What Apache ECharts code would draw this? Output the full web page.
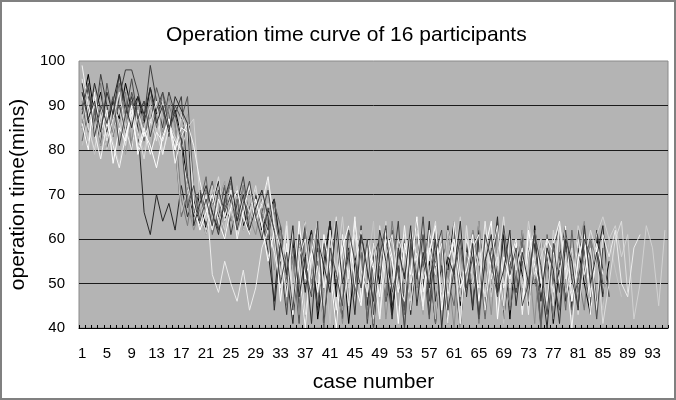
<!DOCTYPE html>
<html>
<head>
<meta charset="utf-8">
<style>html,body{margin:0;padding:0;background:#fff}#c{width:676px;height:400px}</style>
<script src="https://cdn.jsdelivr.net/npm/echarts@6/dist/echarts.min.js"></script>
</head>
<body>
<div id="c"></div>
<script>
const cases = [1,2,3,4,5,6,7,8,9,10,11,12,13,14,15,16,17,18,19,20,21,22,23,24,25,26,27,28,29,30,31,32,33,34,35,36,37,38,39,40,41,42,43,44,45,46,47,48,49,50,51,52,53,54,55,56,57,58,59,60,61,62,63,64,65,66,67,68,69,70,71,72,73,74,75,76,77,78,79,80,81,82,83,84,85,86,87,88,89,90,91,92,93,94,95];

const s1 = [90,97,88,93,85,91,87,95,89,92,86,94,88,91,85,89,83,72,65,70,62,68,73,64,69,71,63,67,70,62,66,69,58,48,60,44,56,62,42,53,64,47,58,41,55,61,45,59,50,63,43,57,52,46,62,49,55,41,60,53,64,45,58,50,62,44,56,48,61,42,59,52,46,63,49,57,41,54,60,45,58,50,43,61,47,55];
const s2 = [93,86,95,89,84,91,97,88,92,85,66,61,70,64,68,62,72,65,69,63,71,66,62,68,73,64,67,61,70,65,57,46,63,52,41,59,48,62,44,55,64,50,42,58,47,61,53,40,56,63,45,51,60,43,57,49,64,46,54,41,62,50,58,44,60,47,53,65,42,55,48,61,45,59,51,40,57,63,46,52,44,60,49,56,63,47];
const s3 = [88,94,86,97,90,83,92,98,98,93,87,99,91,85,93,88,92,74,66,71,63,69,65,72,61,68,74,64,70,66,62,69,55,43,61,50,64,47,58,42,53,62,45,57,49,63,41,56,60,46,52,64,44,58,50,61,43,55,47,63,52,40,59,45,61,54,48,64,42,57,50,62,46,53,41,60,48,56,63,44,51,58,45,62,53];
const s4 = [85,92,89,81,95,87,90,84,93,88,91,86,94,89,83,90,87,92,71,64,68,73,62,67,70,65,72,63,69,66,71,61,60,47,56,41,63,52,45,59,50,64,43,57,48,61,54,40,58,46,62,51,44,60,49,55,42,63,53,47,59,41,56,50,64,45,58,52,43,61,48,55,46,62,40,57,51,44,59,47,62,53,45,58,50];
const s5 = [82,89,93,86,80,88,95,84,91,87,82,90,85,93,88,81,65,70,63,68,74,61,66,72,64,69,62,67,71,65,60,68,63,51,58,44,62,47,55,40,60,52,45,63,49,57,42,59,53,46,61,50,43,56,64,48,54,41,60,51,45,58,47,62,55,42,57,49,63,44,52,59,46,54,40,61,50,57,44,62,48,55,60,46,53];
const s6 = [91,84,88,95,82,90,86,93,80,89,85,92,87,83,90,86,69,63,72,66,61,70,64,68,73,62,67,71,65,69,63,66,58,45,61,50,42,57,63,48,54,41,60,46,56,62,44,51,59,47,64,53,40,58,49,55,61,43,57,50,63,46,52,59,41,56,48,62,45,53,60,44,58,50,47,55,42,61,49,57,52,44,60,55,48];
const s7 = [87,80,91,85,89,83,94,88,82,90,86,79,88,84,92,85,81,68,62,66,71,64,69,60,67,63,72,65,61,68,64,53,62,47,56,43,60,50,64,45,58,52,41,57,63,49,54,46,61,42,55,59,48,63,51,44,57,60,46,53,40,58,50,62,47,55,43,61,52,45,59,48,56,41,60,54,47,62,51,43,58,64,49,56,45,60];
const s8 = [84,90,86,81,88,92,85,79,87,83,89,85,91,82,86,80,84,88,70,64,67,62,69,73,65,61,68,64,71,66,63,59,50,63,46,55,42,61,52,48,57,64,44,53,60,47,56,41,62,51,58,45,54,63,49,43,59,52,46,61,55,40,57,50,64,47,53,60,44,58,49,62,46,55,51,43,59,48,61,56,45,63,52];
const s9 = [81,86,79,84,88,82,77,85,90,83,80,87,84,79,86,82,66,71,63,68,61,65,70,64,67,72,62,66,69,63,56,61,49,58,43,62,52,47,60,55,41,63,50,57,46,59,53,64,44,51,60,48,56,62,45,53,58,42,61,50,55,47,63,52,44,59,49,57,41,62,54,46,60,51,58,43,55,63,48,52,45,61,50,57,44,60,53,47];
const s10 = [88,82,91,86,80,84,89,83,87,81,85,90,84,79,86,83,80,85,87,69,64,72,66,62,70,65,68,63,71,67,73,63,55,62,48,58,64,51,57,45,61,53,65,49,56,62,47,59,54,64,50,57,61,46,55,63,52,58,48,62,56,65,50,59,54,61,47,57,63,52,58,49,64,55,60,45,62,53,57,48,63,58,52,61,65,60,63,56,61,42,50,63,58,45,62];
const s11 = [92,85,80,88,83,90,86,81,89,84,78,87,82,91,85,80,88,84,71,65,62,68,74,64,67,61,70,66,72,63,68,60,52,64,47,58,43,55,62,49,57,65,45,53,61,50,58,42,63,54,48,60,56,44,62,51,57,64,46,55,59,41,63,50,57,47,61,54,65,49,58,44,62,52,56,60,45,63,51,58,43,55,62,57,41,50,60,64,48];
const s12 = [96,88,84,90,82,87,93,85,80,89,83,86,91,79,85,82,80,72,66,63,70,52,48,55,50,46,53,44,49,58,62,57,49,63,44,56,60,47,54,41,62,51,58,45,64,53,48,59,42,56,61,50,46,63,55,44,58,52,62,47,57,41,60,54,49,64,51,56,45,61,53,58,43,62,50,57,48,63,55,46,60,52,58,44,61,56,62,50,47,58,61];
const s13 = [99,90,84,78,86,81,76,83,88,80,85,79,84,82,87,77,83,86,81,73,67,62,69,65,71,60,66,72,64,68,74,63,58,47,62,53,40,57,64,49,55,44,61,51,65,46,58,53,42,60,55,48,63,50,57,45,62,54,59,41,64,52,47,58,61,44,56,63,49,55,60,43,57,62,51,46,59,64,53,40,56,61,47,59,52];
const s14 = [86,80,93,84,89,77,85,82,90,79,84,81,76,83,87,80,85,84,68,62,66,70,64,60,67,71,65,61,69,63,55,62,46,59,43,64,51,57,48,61,53,40,58,63,50,45,60,54,47,62,56,41,59,52,65,48,57,63,44,55,60,49,53,61,46,58,64,42,56,51,59,45,62,54,48,60,57,50,63,46,55,61,43,58];
const s15 = [95,87,91,84,93,88,97,90,85,92,88,94,86,90,84,92,89,86,63,68,72,66,61,69,74,64,70,62,67,71,65,44,59,52,63,47,56,41,60,54,48,64,50,57,43,61,53,46,62,55,42,58,51,63,45,57,49,60,40,56,52,64,47,59,43,55,61,48,53,62,45,57,50,62,46,58,53,41,60,55,44,63,50,57,47];
const s16 = [89,95,83,90,86,92,81,88,96,87,91,83,89,93,85,88,82,67,72,64,69,63,71,66,70,62,68,73,65,60,67,62,50,57,44,61,53,47,64,41,58,52,45,62,55,49,60,43,56,63,48,54,40,59,51,65,46,57,62,44,53,60,49,56,42,61,55,47,63,52,58,45,50,61,54,43,59,48,62,51,45,60,56,42,58];

const seriesData = [s1,s2,s3,s4,s5,s6,s7,s8,s9,s10,s11,s12,s13,s14,s15,s16];
const lineColors = ['#000000','#262626','#3d3d3d','#525252','#666666','#7a7a7a','#8f8f8f','#a3a3a3','#c4c4c4','#d2d2d2','#dedede','#ececec','#f5f5f5','#ffffff','#2e2e2e','#474747'];
const yTicks = [40,50,60,70,80,90,100];

const chart = echarts.init(document.getElementById('c'), null, {renderer:'canvas'});
const font = 'Liberation Sans, Arial, sans-serif';
chart.setOption({
  animation: false,
  backgroundColor: '#ffffff',
  title: {
    text: 'Operation time curve of 16 participants',
    left: 161, top: 20,
    textStyle: {fontFamily: font, fontSize: 21, fontWeight: 'normal', color: '#000'}
  },
  graphic: [{
    type: 'rect', shape: {x: 1, y: 1, width: 674, height: 398},
    style: {fill: 'none', stroke: '#808080', lineWidth: 2}, silent: true, z: 100
  }],
  grid: {
    left: 79, right: 8, top: 61, bottom: 72,
    show: true, backgroundColor: '#b4b4b4', borderColor: '#8a8a8a', borderWidth: 1
  },
  xAxis: {
    type: 'category', data: cases, boundaryGap: true,
    name: 'case number', nameLocation: 'middle', nameGap: 44,
    nameTextStyle: {fontFamily: font, fontSize: 21, color: '#000'},
    axisLine: {show: true, lineStyle: {color: '#000', width: 1}},
    axisTick: {show: true, inside: true, length: 3, interval: 0, lineStyle: {color: '#000'}},
    axisLabel: {interval: 3, margin: 18, fontFamily: font, fontSize: 15, color: '#000'},
    splitLine: {show: false}
  },
  yAxis: {
    type: 'value', min: yTicks[0], max: yTicks[yTicks.length-1], interval: 10,
    name: 'operation time(mins)', nameLocation: 'middle', nameGap: 44,
    nameTextStyle: {fontFamily: font, fontSize: 21, color: '#000'},
    axisLine: {show: false}, axisTick: {show: false},
    axisLabel: {margin: 14, fontFamily: font, fontSize: 15, color: '#000'},
    splitLine: {show: true, showMinLine: false, showMaxLine: false, lineStyle: {color: '#1a1a1a', width: 1}}
  },
  series: seriesData.map((d, i) => ({
    type: 'line', data: d, symbol: 'none', smooth: false,
    lineStyle: {color: lineColors[i], width: 1}, clip: true
  }))
});
</script>
</body>
</html>
